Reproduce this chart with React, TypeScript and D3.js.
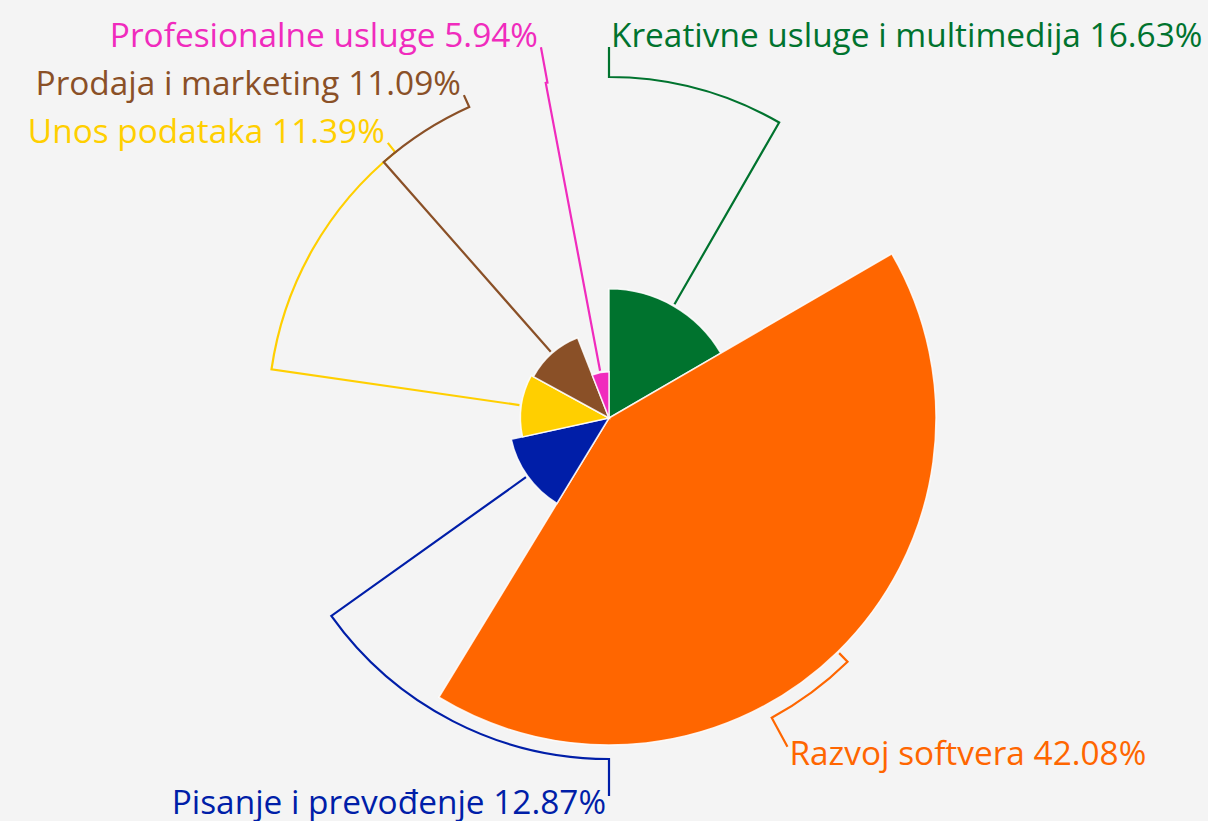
import React from 'react';
import * as d3 from 'd3';

// slice data, clockwise from 12 o'clock
const categories = [
  'Kreativne usluge i multimedija',
  'Razvoj softvera',
  'Pisanje i prevođenje',
  'Unos podataka',
  'Prodaja i marketing',
  'Profesionalne usluge',
];
const shares = [16.63, 42.08, 12.87, 11.39, 11.09, 5.94];
const colors = ['#00732e', '#ff6600', '#001ea8', '#ffcf00', '#8a5027', '#f02bbd'];

// where each label's leader ends: angle (deg, clockwise from top) and radius
const labelAngles = [0, 151.5, 180, 321.2, 335.8, 349.6];
const labelRadii = [371, 374, 378, 353, 354, 377];

const width = 1208;
const height = 821;
const cx = 609;
const cy = 418;
const elbowRadius = 341;

function polar(deg: number, r: number): [number, number] {
  const a = (deg * Math.PI) / 180;
  return [cx + r * Math.sin(a), cy - r * Math.cos(a)];
}

export default function App() {
  const data = categories.map((name, i) => ({ name, value: shares[i], color: colors[i], i }));

  const radius = d3.scaleLinear().domain([0, d3.max(shares) as number]).range([0, 327]);

  const pie = d3.pie<any>().sort(null).value(d => d.value);
  const arcs = pie(data);

  const arcGen = d3.arc<any>()
    .innerRadius(0)
    .outerRadius(d => radius(d.data.value));

  const leader = (a: any) => {
    const i = a.data.i;
    const mid = ((a.startAngle + a.endAngle) / 2) * 180 / Math.PI;
    const la = labelAngles[i];
    const p = d3.path();
    const [x0, y0] = polar(mid, radius(a.data.value) + 2);
    const [x1, y1] = polar(mid, elbowRadius);
    p.moveTo(x0, y0);
    p.lineTo(x1, y1);
    const toCanvas = (deg: number) => ((deg - 90) * Math.PI) / 180;
    p.arc(cx, cy, elbowRadius, toCanvas(mid), toCanvas(la), la < mid);
    const [x2, y2] = polar(la, labelRadii[i]);
    p.lineTo(x2, y2);
    return { d: p.toString(), tip: [x2, y2], angle: la };
  };

  return (
    <div style={{ position: 'fixed', inset: 0, background: '#f4f4f4' }}>
      <svg width={width} height={height} style={{ display: 'block' }}>
        <rect width={width} height={height} fill="#f4f4f4" />
        <g transform={`translate(${cx},${cy})`}>
          {arcs.map((a, k) => (
            <path key={k} d={arcGen(a) as string} fill={a.data.color} stroke="#ffffff" strokeOpacity={0.85} strokeWidth={1.5} />
          ))}
        </g>
        {arcs.map((a, k) => {
          const l = leader(a);
          const right = l.angle < 180;
          const upper = l.angle < 90 || l.angle > 270;
          return (
            <g key={k}>
              <path d={l.d} fill="none" stroke={a.data.color} strokeWidth={2.2} />
              <text
                x={l.tip[0] + (right ? 2 : -3)}
                y={l.tip[1] + (upper ? 0 : 18)}
                textAnchor={right ? 'start' : 'end'}
                fill={a.data.color}
                style={{ font: '33.4px "Open Sans", sans-serif' }}
              >
                {`${a.data.name} ${a.data.value.toFixed(2)}%`}
              </text>
            </g>
          );
        })}
      </svg>
    </div>
  );
}
